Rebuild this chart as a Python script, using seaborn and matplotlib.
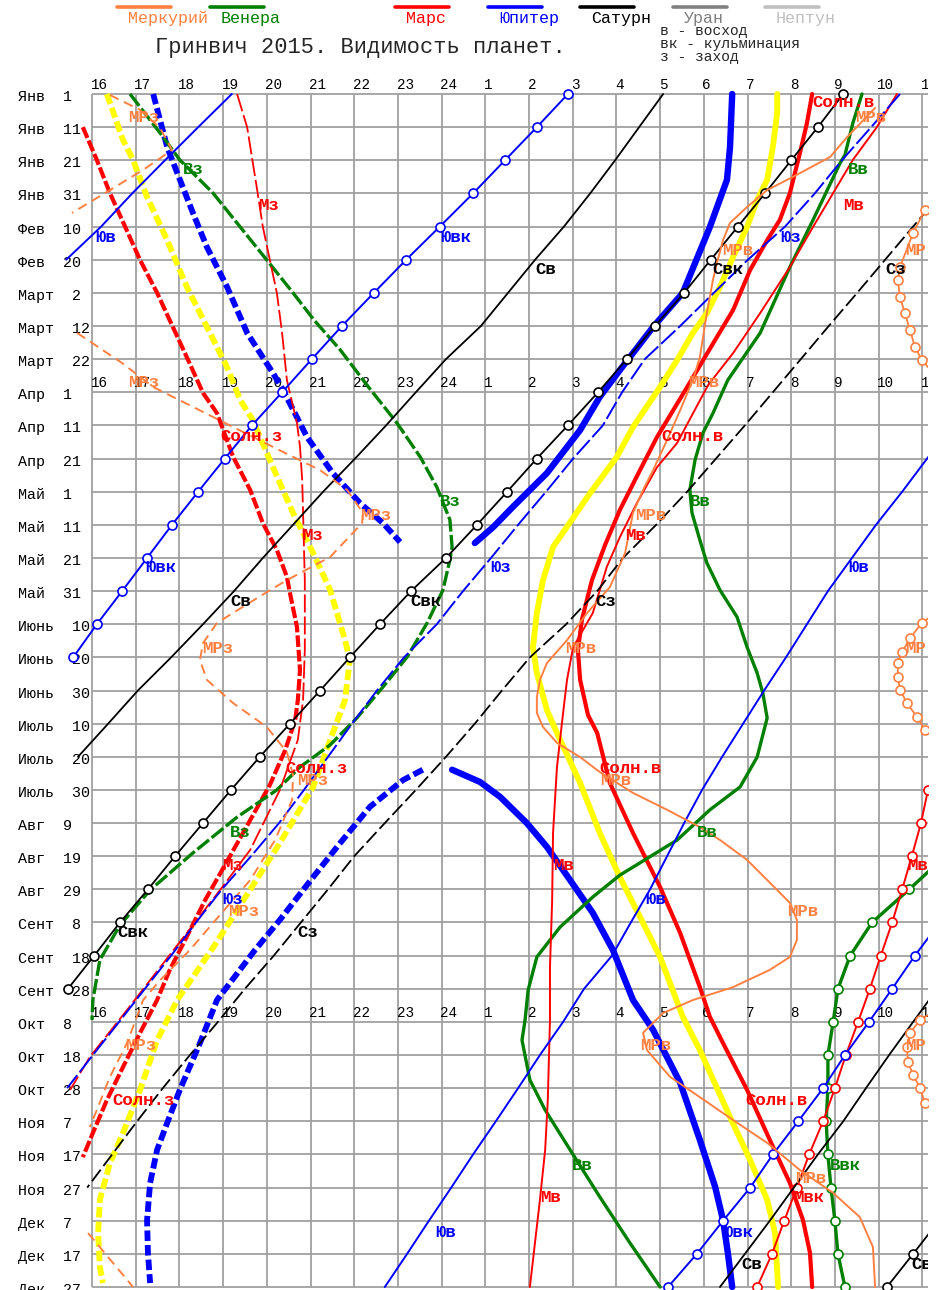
import datetime
import matplotlib
matplotlib.use("Agg")
import matplotlib.pyplot as plt
from matplotlib.lines import Line2D
import seaborn as sns

sns.set_style("white")
plt.rcParams['font.family'] = ['Liberation Mono', 'DejaVu Sans Mono']

# Time axis: continuous night hours, 16..24 evening, 25 = 1h ... 35 = 11h next morning
HOURS = list(range(16, 36))
# Rows: days after 1 Jan 2015, every 10 days
ROW_DAYS = list(range(0, 361, 10))
MONTHS = ["Янв", "Фев", "Март", "Апр", "Май", "Июнь", "Июль", "Авг", "Сент", "Окт", "Ноя", "Дек"]

# ---- Sun ----
sunset_days = [10.0, 19.9, 29.9, 40.1, 50.1, 60.0, 70.3, 80.3, 90.2, 96.3, 109.5, 119.5, 129.5, 137.6, 145.7,
               150.6, 160.8, 173.8, 182.9, 188.9, 198.0, 208.5, 219.1, 231.1, 243.2, 255.3, 264.3, 273.4,
               283.3, 293.6, 303.6, 313.5, 320.8]
sunset_h = [15.79, 16.11, 16.41, 16.76, 17.10, 17.49, 17.85, 18.20, 18.54, 18.86, 19.23, 19.62, 19.91, 20.23,
            20.46, 20.53, 20.69, 20.76, 20.71, 20.65, 20.42, 20.07, 19.62, 19.11, 18.59, 18.13, 17.78, 17.49,
            17.10, 16.71, 16.34, 16.02, 15.79]
sunrise_days = [0, 8.8, 17.8, 29.9, 38.0, 44.1, 53.1, 65.2, 75.1, 84.2, 89.3, 103.5, 113.5, 125.5, 136.1, 146.7,
                158.7, 167.8, 176.8, 187.4, 192.8, 207.9, 223.0, 239.3, 253.2, 269.5, 278.5, 286.4, 300.5,
                315.6, 328.6, 339.8, 349.7, 360.0]
sunrise_h = [32.48, 32.36, 32.20, 31.97, 31.74, 31.45, 31.06, 30.67, 30.22, 29.81, 29.58, 28.93, 28.54, 28.08,
             27.74, 27.44, 27.21, 27.12, 27.17, 27.35, 27.56, 27.85, 28.38, 29.00, 29.46, 29.91, 30.14, 30.44,
             30.99, 31.51, 31.97, 32.27, 32.43, 32.48]

# ---- twilight (yellow = civil, thick blue = astronomical) ----
civil_eve_days = [0, 13.9, 19.9, 31.1, 44.1, 58.2, 70.3, 82.4, 92.3, 98.4, 112.6, 126.4, 138.5, 149.7, 164.8,
                  170.8, 182.9, 192.8, 209.1, 226.0, 241.1, 256.8, 273.4, 285.5, 300.5, 313.5, 322.6, 333.7,
                  343.7, 353.9, 358.8]
civil_eve_h = [16.34, 16.71, 16.94, 17.26, 17.72, 18.17, 18.63, 19.09, 19.39, 19.68, 20.14, 20.60, 21.06, 21.45,
               21.79, 21.90, 21.79, 21.51, 21.06, 20.30, 19.57, 18.81, 17.95, 17.49, 17.10, 16.71, 16.41, 16.18,
               16.14, 16.18, 16.25]
civil_morn_days = [0, 5.7, 16.0, 25.9, 32.0, 40.1, 49.2, 58.2, 66.1, 72.1, 80.3, 88.4, 100.5, 109.5, 116.5,
                   120.4, 136.7, 146.7, 156.6, 166.9, 174.7, 185.9, 192.8, 207.9, 223.0, 236.3, 248.3, 260.4,
                   278.5, 288.5, 308.7, 321.7, 333.7, 343.7, 360.0]
civil_morn_h = [31.68, 31.68, 31.58, 31.45, 31.22, 30.99, 30.67, 30.37, 30.07, 29.75, 29.39, 29.00, 28.38, 28.01,
                27.62, 27.40, 26.55, 26.32, 26.18, 26.09, 26.18, 26.41, 26.64, 27.17, 27.62, 28.08, 28.54, 29.00,
                29.52, 29.91, 30.60, 31.06, 31.45, 31.63, 31.70]
astro_eve1_days = [0, 16.0, 23.8, 35.9, 46.2, 58.2, 72.1, 84.2, 89.3, 103.5, 114.4, 123.4, 129.5, 135.2]
astro_eve1_h = [17.40, 17.72, 17.95, 18.31, 18.63, 19.09, 19.55, 20.14, 20.37, 20.92, 21.51, 22.13, 22.66, 23.05]
astro_eve2_days = [203.9, 207.0, 215.1, 226.0, 236.3, 249.2, 258.3, 273.4, 286.4, 300.5, 310.5, 318.6, 328.6,
                   339.8, 349.7, 358.8]
astro_eve2_h = [23.57, 23.12, 22.36, 21.68, 21.06, 20.30, 19.73, 18.86, 18.47, 18.01, 17.72, 17.49, 17.33, 17.26,
                17.28, 17.33]
astro_morn1_days = [0, 16.0, 25.9, 40.1, 60.0, 70.3, 83.3, 91.4, 101.4, 114.4, 124.6, 130.7, 135.5]
astro_morn1_h = [30.65, 30.60, 30.53, 30.14, 29.52, 28.84, 28.08, 27.62, 27.17, 26.41, 25.63, 25.18, 24.76]
astro_morn2_days = [203.9, 207.6, 212.1, 220.0, 227.2, 237.2, 247.1, 258.3, 273.4, 282.4, 298.4, 315.6, 329.8,
                    339.8, 349.7, 360.0]
astro_morn2_h = [24.24, 24.88, 25.34, 25.95, 26.41, 26.94, 27.46, 27.92, 28.38, 28.84, 29.46, 29.91, 30.26,
                 30.44, 30.55, 30.65]

# ---- Mercury ----
merc_set1_days = [0.3, 4.8, 10.3, 16.9, 22.9, 29.0, 35.9]
merc_set1_h = [16.41, 17.10, 17.56, 17.83, 17.17, 16.41, 15.54]
merc_set2_days = [72.1, 81.2, 88.4, 99.9, 108.0, 113.5, 119.5, 126.4, 129.5, 139.7, 146.7, 150.3, 159.6, 165.7,
                  170.8, 176.8, 183.8, 191.0, 198.6, 205.5, 213.0, 225.1, 237.2, 247.7, 258.3, 267.4, 273.4,
                  286.4, 296.6, 306.6, 311.7]
merc_set2_h = [15.66, 16.69, 17.40, 19.14, 20.37, 21.22, 21.84, 22.20, 22.18, 21.45, 20.46, 20.00, 18.86, 18.54,
               18.47, 18.63, 19.23, 20.00, 20.46, 20.60, 20.58, 20.19, 19.62, 18.93, 18.24, 17.56, 17.17, 16.80,
               16.41, 16.11, 15.95]
merc_set3_days = [343.7, 360.0]
merc_set3_h = [15.91, 16.94]
merc_rise_days = [4.2, 13.0, 19.0, 25.0, 29.0, 34.1, 38.9, 44.1, 51.0, 56.1, 66.1, 79.4, 86.3, 95.4, 104.4,
                  113.5, 119.5, 126.4, 138.5, 148.8, 156.6, 164.8, 171.7, 176.8, 182.0, 186.8, 191.0, 195.8,
                  200.1, 204.6, 210.9, 216.0, 221.2, 225.1, 231.1, 240.2, 244.1, 249.2, 255.3, 260.4, 264.3,
                  269.5, 273.4, 277.3, 283.3, 288.5, 296.6, 302.7, 309.6, 316.5, 324.7, 331.6, 338.9, 347.9, 360.0]
merc_rise_h = [33.92, 33.28, 32.89, 32.04, 31.45, 30.99, 30.60, 30.44, 30.30, 30.21, 30.07, 29.91, 29.75, 29.46,
               29.16, 28.84, 28.61, 28.38, 28.20, 27.85, 27.33, 26.87, 26.41, 26.25, 26.18, 26.18, 26.32, 26.64,
               27.17, 27.62, 28.38, 29.16, 29.91, 30.37, 30.99, 31.68, 31.97, 32.13, 32.13, 31.97, 31.51, 30.67,
               29.75, 29.07, 28.61, 28.70, 29.23, 29.91, 30.67, 31.45, 32.20, 32.96, 33.57, 33.87, 33.92]
merc_culm1_days = [29.0, 35.0, 41.9, 52.2, 56.1, 61.3, 66.1, 71.3, 76.3, 80.3, 84.8]
merc_culm1_h = [35.52, 35.06, 34.79, 34.49, 34.44, 34.49, 34.60, 34.72, 34.83, 34.99, 35.29]
merc_culm2_days = [155.7, 159.6, 164.2, 168.4, 171.7, 175.9, 179.8, 183.8, 188.0, 191.9, 196.4]
merc_culm2_h = [35.40, 34.99, 34.72, 34.54, 34.44, 34.44, 34.49, 34.65, 34.88, 35.06, 35.40]
merc_culm3_days = [275.8, 279.4, 283.3, 287.6, 292.1, 296.0, 299.9, 304.5, 308.1]
merc_culm3_h = [35.40, 34.95, 34.72, 34.65, 34.67, 34.79, 34.95, 35.06, 35.29]

# ---- Venus ----
venus_set_days = [0, 11.8, 19.9, 29.9, 40.1, 50.1, 60.0, 68.2, 77.2, 87.8, 99.3, 109.5, 118.6, 128.5, 136.7,
                  140.6, 149.7, 159.6, 169.9, 178.9, 188.3, 196.4, 203.1, 210.0, 218.2, 229.0, 240.2, 250.8,
                  261.3, 273.4, 279.4]
venus_set_h = [16.87, 17.56, 18.01, 18.77, 19.39, 20.00, 20.60, 21.08, 21.68, 22.29, 22.98, 23.51, 23.89, 24.19,
               24.24, 24.19, 24.03, 23.67, 23.21, 22.66, 22.06, 21.45, 20.76, 20.23, 19.32, 18.31, 17.33, 16.64,
               16.18, 16.02, 16.00]
venus_rise_days = [0, 8.8, 18.4, 20.8, 38.0, 52.2, 72.1, 86.3, 96.3, 102.3, 110.4, 119.5, 126.4, 134.6, 141.5,
                   149.7, 157.8, 166.9, 174.7, 180.7, 188.3, 200.1, 209.1, 216.0, 225.1, 232.0, 235.7, 242.3,
                   251.4, 260.4, 270.4, 279.4, 285.5, 297.5, 306.6, 318.6, 332.8, 346.7, 360.0]
venus_rise_h = [33.62, 33.41, 33.23, 33.12, 32.50, 31.97, 31.29, 30.55, 30.21, 29.98, 29.80, 29.68, 29.73, 29.91,
                30.07, 30.37, 30.76, 30.99, 31.22, 31.35, 31.45, 31.22, 30.83, 30.14, 29.39, 28.54, 28.08, 27.46,
                26.71, 26.18, 25.98, 25.91, 25.84, 26.02, 26.37, 26.94, 27.62, 28.31, 29.00]
venus_culm_days = list(range(230, 361, 10))
venus_culm_h = [35.52, 34.70, 33.85, 33.35, 33.07, 32.96, 32.84, 32.84, 32.80, 32.84, 32.91, 33.00, 33.07, 33.23]

# ---- Mars ----
mars_set_days = [0, 10.0, 29.0, 40.1, 50.1, 60.0, 72.1, 86.3, 99.3, 106.5, 116.5, 126.4, 146.7, 167.8, 182.9,
                 194.9, 210.0, 228.1, 240.2, 261.3, 276.4, 290.6, 300.5]
mars_set_h = [19.32, 19.55, 19.78, 19.91, 20.07, 20.23, 20.35, 20.46, 20.69, 20.76, 20.81, 20.83, 20.87, 20.87,
              20.83, 20.71, 20.30, 19.62, 18.93, 17.69, 16.80, 15.95, 15.50]
mars_rise_days = [0, 10.0, 19.9, 29.9, 40.1, 52.2, 66.1, 78.2, 87.8, 105.3, 112.6, 123.4, 133.7, 142.7, 149.7,
                  156.6, 166.9, 176.8, 186.8, 203.1, 223.0, 243.2, 263.4, 279.4, 303.6, 318.6, 333.7, 360.0]
mars_rise_h = [34.42, 33.96, 33.41, 32.96, 32.50, 31.97, 31.29, 30.67, 30.10, 29.39, 28.93, 28.47, 28.08, 27.78,
               27.62, 27.46, 27.01, 26.87, 26.78, 26.64, 26.55, 26.53, 26.48, 26.48, 26.43, 26.37, 26.25, 26.02]
mars_culm_days = list(range(200, 361, 10))
mars_culm_h = [35.31, 35.13, 34.97, 34.76, 34.54, 34.31, 34.05, 33.80, 33.53, 33.25, 33.00, 32.73, 32.41, 32.13,
               31.84, 31.56, 31.22]

# ---- Jupiter ----
jup_rise1_days = list(range(0, 51, 10))
jup_rise1_h = [19.20, 18.43, 17.67, 16.92, 16.21, 15.41]
jup_rise2_days = list(range(100, 361, 10))
jup_rise2_h = [35.68, 35.11, 34.54, 33.94, 33.39, 32.84, 32.36, 31.88, 31.38, 30.90, 30.42, 29.96, 29.55, 29.16,
               28.77, 28.33, 27.90, 27.26, 26.78, 26.25, 25.75, 25.24, 24.72, 24.22, 23.71, 23.21, 22.70]
jup_culm1_days = list(range(0, 171, 10))
jup_culm1_h = [26.89, 26.18, 25.45, 24.72, 23.96, 23.19, 22.45, 21.72, 21.03, 20.35, 19.66, 19.04, 18.43, 17.83,
               17.26, 16.69, 16.11, 15.57]
jup_culm2_days = list(range(250, 361, 10))
jup_culm2_h = [35.40, 34.83, 34.31, 33.78, 33.23, 32.73, 32.16, 31.58, 31.06, 30.44, 29.84, 29.18]
jup_set_days = list(range(0, 301, 10))
jup_set_h = [34.49, 33.83, 33.16, 32.54, 31.86, 31.01, 30.23, 29.46, 28.65, 28.13, 27.69, 27.01, 26.39, 25.75,
             25.13, 24.49, 23.89, 23.14, 22.52, 21.95, 21.40, 20.85, 20.28, 19.64, 18.97, 18.38, 17.81, 17.21,
             16.62, 16.02, 15.43]

# ---- Saturn ----
sat_rise1_days = list(range(0, 201, 10))
sat_rise1_h = [29.07, 28.52, 27.97, 27.40, 26.80, 26.14, 25.52, 24.90, 24.10, 23.41, 22.73, 22.02, 21.29, 20.60,
               19.91, 19.25, 18.54, 17.81, 17.05, 16.37, 15.68]
sat_rise2_days = list(range(270, 361, 10))
sat_rise2_h = [35.34, 34.79, 34.24, 33.71, 33.19, 32.61, 32.06, 31.51, 30.94, 30.37]
sat_culm1_days = list(range(0, 271, 10))
sat_culm1_h = [33.19, 32.61, 32.00, 31.40, 30.78, 30.16, 29.55, 28.88, 28.24, 27.58, 26.89, 26.18, 25.50, 24.81,
               24.10, 23.30, 22.59, 21.90, 21.22, 20.53, 19.84, 19.18, 18.54, 17.90, 17.28, 16.64, 16.05, 15.45]
sat_culm2_days = [340, 350, 360]
sat_culm2_h = [35.38, 34.79, 34.19]
sat_set_days = list(range(30, 331, 10))
sat_set_h = [35.43, 34.79, 34.15, 33.51, 32.86, 32.22, 31.58, 30.94, 30.28, 29.62, 28.91, 28.15, 27.56, 26.85,
             26.02, 25.38, 24.76, 24.10, 23.41, 22.70, 22.00, 21.40, 20.78, 20.16, 19.50, 18.88, 18.24, 17.62,
             17.03, 16.46, 15.89]

OR, GR, RD, BL, BK, YE = '#ff8040', '#008000', '#ff0000', '#0000ff', '#000000', '#ffff00'

# curve labels: text, colour, hour (left edge), day
labels = [
    ("МРз", OR, 16.82, 7.2), ("Солн.в", RD, 32.48, 2.7), ("МРв", OR, 33.46, 7.2),
    ("Вз", GR, 18.08, 22.9), ("Вв", GR, 33.30, 22.9), ("Мз", RD, 19.80, 33.5), ("Мв", RD, 33.19, 33.5),
    ("Юв", BL, 16.07, 43.2), ("Ювк", BL, 23.96, 43.2), ("Юз", BL, 31.74, 43.2),
    ("МРв", OR, 30.42, 47.1), ("МР", OR, 34.60, 47.1),
    ("Св", BK, 26.14, 53.1), ("Свк", BK, 30.19, 53.1), ("Сз", BK, 34.15, 53.1),
    ("МРз", OR, 16.82, 87.2), ("МРв", OR, 29.64, 87.2),
    ("Солн.з", RD, 18.93, 103.5), ("Солн.в", RD, 29.04, 103.5),
    ("Вз", GR, 23.96, 123.1), ("Вв", GR, 29.68, 123.1), ("МРз", OR, 22.13, 127.1), ("МРв", OR, 28.43, 127.1),
    ("Мз", RD, 20.81, 133.1), ("Мв", RD, 28.20, 133.1),
    ("Ювк", BL, 17.21, 143.0), ("Юз", BL, 25.11, 143.0), ("Юв", BL, 33.30, 143.0),
    ("Св", BK, 19.16, 153.0), ("Свк", BK, 23.28, 153.0), ("Сз", BK, 27.51, 153.0),
    ("МРз", OR, 18.52, 167.2), ("МРв", OR, 26.82, 167.2), ("МР", OR, 34.60, 167.2),
    ("Солн.з", RD, 20.42, 203.4), ("Солн.в", RD, 27.62, 203.4), ("МРз", OR, 20.69, 207.1),
    ("МРв", OR, 27.62, 207.1), ("Вз", GR, 19.16, 222.7), ("Вв", GR, 29.84, 222.7),
    ("Мз", RD, 18.97, 232.9), ("Мв", RD, 26.55, 232.9), ("Мв", RD, 34.65, 232.9),
    ("Юз", BL, 18.97, 243.2), ("Юв", BL, 28.65, 243.2), ("МРз", OR, 19.11, 246.8), ("МРв", OR, 31.90, 246.8),
    ("Свк", BK, 16.59, 252.9), ("Сз", BK, 20.71, 252.9),
    ("МРз", OR, 16.76, 287.0), ("МРв", OR, 28.54, 287.0), ("МР", OR, 34.60, 287.0),
    ("Солн.з", RD, 16.46, 303.6), ("Солн.в", RD, 30.94, 303.6),
    ("Вв", GR, 26.98, 323.2), ("Ввк", GR, 32.89, 323.2), ("МРв", OR, 32.09, 327.1),
    ("Мв", RD, 26.25, 333.1), ("Мвк", RD, 32.04, 333.1),
    ("Юв", BL, 23.85, 343.4), ("Ювк", BL, 30.42, 343.4),
    ("Св", BK, 30.87, 353.3), ("Свк", BK, 34.76, 353.3),
]

legend_items = [("Меркурий", OR), ("Венера", GR), ("Марс", RD), ("Юпитер", BL),
                ("Сатурн", BK), ("Уран", '#808080'), ("Нептун", '#c0c0c0')]
legend_x = [117, 210, 395, 488, 580, 673, 765]

W, H = 944, 1290
fig = plt.figure(figsize=(W / 100, H / 100), dpi=100)
fig.patch.set_facecolor('white')
# one pixel-true frame: 43.7 px per hour, 3.314 px per day, origin (16h, day 0) at (92, 94)
ax = fig.add_axes([0, 0, 928 / W, 1])
ax.set_xlim(16 - 92 / 43.7, 16 + 836 / 43.7)
ax.set_ylim((H - 94) / 3.314, -94 / 3.314)
ax.axis('off')

grid_kw = dict(color='#a0a0a0', linewidth=1.3, zorder=1)
ax.vlines(HOURS, 0, 360, **grid_kw)
ax.hlines(ROW_DAYS, 16, 36, **grid_kw)

# row labels
start = datetime.date(2015, 1, 1)
for d in ROW_DAYS:
    dt = start + datetime.timedelta(days=d)
    ax.text(14.31, d + 0.9, f"{MONTHS[dt.month - 1]}  {dt.day}", ha='left', va='center',
            fontsize=10.8, color='black')
# hour labels repeated above three rows
for d in [0, 90, 280]:
    for h in HOURS:
        ax.text(h - 0.03, d - 2.7, str(h if h <= 24 else h - 24), ha='left', va='center',
                fontsize=10.3, color='black', clip_on=True, zorder=2)


def draw(days, hours, color, lw, ls='-', marker=False):
    kw = dict(sort=False, estimator=None, color=color, linewidth=lw, linestyle=ls, ax=ax,
              legend=False, zorder=3)
    if marker:
        kw.update(marker='o', markersize=6.5, markerfacecolor='white', markeredgecolor=color,
                  markeredgewidth=1.2)
    sns.lineplot(x=hours, y=days, **kw)


thick_dash = (0, (1.8, 0.7))
# twilight & sun
draw(astro_eve1_days, astro_eve1_h, BL, 4.2, thick_dash)
draw(astro_eve2_days, astro_eve2_h, BL, 4.2, thick_dash)
draw(civil_eve_days, civil_eve_h, YE, 4.2, thick_dash)
draw(sunset_days, sunset_h, RD, 3.0, (0, (2.8, 0.7)))
draw(astro_morn1_days, astro_morn1_h, BL, 4.6)
draw(astro_morn2_days, astro_morn2_h, BL, 4.6)
draw(civil_morn_days, civil_morn_h, YE, 4.2)
draw(sunrise_days, sunrise_h, RD, 3.0)
# Venus
draw(venus_set_days, venus_set_h, GR, 2.4, (0, (4.5, 1.0)))
draw(venus_rise_days, venus_rise_h, GR, 2.4)
draw(venus_culm_days, venus_culm_h, GR, 2.4, marker=True)
# Mars
draw(mars_set_days, mars_set_h, RD, 1.3, (0, (10, 2.2)))
draw(mars_rise_days, mars_rise_h, RD, 1.4)
draw(mars_culm_days, mars_culm_h, RD, 1.4, marker=True)
# Jupiter
draw(jup_set_days, jup_set_h, BL, 1.4, (0, (10, 2)))
draw(jup_rise1_days, jup_rise1_h, BL, 1.4)
draw(jup_rise2_days, jup_rise2_h, BL, 1.4)
draw(jup_culm1_days, jup_culm1_h, BL, 1.4, marker=True)
draw(jup_culm2_days, jup_culm2_h, BL, 1.4, marker=True)
# Saturn
draw(sat_set_days, sat_set_h, BK, 1.3, (0, (8, 2.5)))
draw(sat_rise1_days, sat_rise1_h, BK, 1.3)
draw(sat_rise2_days, sat_rise2_h, BK, 1.3)
draw(sat_culm1_days, sat_culm1_h, BK, 1.3, marker=True)
draw(sat_culm2_days, sat_culm2_h, BK, 1.3, marker=True)
# Mercury
draw(merc_set1_days, merc_set1_h, OR, 1.4, (0, (5, 3)))
draw(merc_set2_days, merc_set2_h, OR, 1.4, (0, (5, 3)))
draw(merc_set3_days, merc_set3_h, OR, 1.4, (0, (5, 3)))
draw(merc_rise_days, merc_rise_h, OR, 1.4)
for dd, hh in [(merc_culm1_days, merc_culm1_h), (merc_culm2_days, merc_culm2_h),
               (merc_culm3_days, merc_culm3_h)]:
    draw(dd, hh, OR, 1.3, marker=True)

for txt, col, h, d in labels:
    ax.text(h, d, txt, color=col, ha='left', va='center', fontsize=12.5, fontweight='bold',
            clip_on=True, zorder=5)

# header: legend, title, key
for (name, col), x in zip(legend_items, legend_x):
    fig.add_artist(Line2D([x / W, (x + 54) / W], [1 - 7 / H] * 2, color=col, linewidth=2.6,
                          transform=fig.transFigure))
    fig.text((x + 11) / W, 1 - 18 / H, name, color=col, ha='left', va='center', fontsize=12)
fig.text(360 / W, 1 - 47 / H, "Гринвич 2015. Видимость планет.", ha='center', va='center', fontsize=15.8)
for i, line in enumerate(["в - восход", "вк - кульминация", "з - заход"]):
    fig.text(660 / W, 1 - (31 + 13 * i) / H, line, ha='left', va='center', fontsize=10.5)

fig.savefig("out.png", dpi=100, facecolor='white')
